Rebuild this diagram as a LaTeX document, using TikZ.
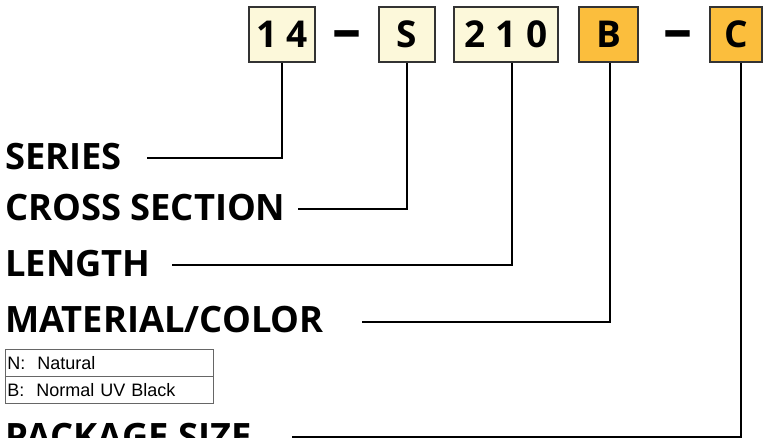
\documentclass[tikz,border=0pt]{standalone}
\usepackage{fontspec}
\setmainfont{Open Sans}
\newfontfamily\legendfont{Liberation Sans}
\usetikzlibrary{positioning}
\definecolor{cream}{HTML}{FCF8DA}
\definecolor{amber}{HTML}{FBBE3D}
\definecolor{edge}{HTML}{333333}

\begin{document}
\begin{tikzpicture}[x=1pt, y=-1pt,
  code/.style = {draw=edge, line width=1.2pt, fill=cream,
    minimum height=55pt, inner sep=0pt,
    font=\fontsize{37}{37}\selectfont\bfseries},
  opt/.style = {code, fill=amber},
  joiner/.style = {inner sep=0pt, font=\fontsize{58}{58}\selectfont\bfseries},
  field/.style = {anchor=base west, inner sep=0pt,
    font=\fontsize{36.3}{36.3}\selectfont\bfseries},
  lead/.style = {line width=1.6pt},
  legrow/.style = {draw=gray!80!black, line width=0.8pt,
    minimum width=208pt, minimum height=27pt, inner sep=2pt,
    text width=204pt, align=left,
    font=\legendfont\fontsize{18}{18}\selectfont}]
  \useasboundingbox (0,0) rectangle (763,438);

  % the part number
  \node[code, minimum width=66pt] (n14) at (282,34.5) {1 4};
  \node[joiner] (dash1) at (346.5,40) {–};
  \node[code, minimum width=56pt] (nS) at (407,34.5) {S};
  \node[code, minimum width=104pt] (n210) at (506,34.5) {2 1 0};
  \node[opt, minimum width=59pt] (nB) at (608.5,34.5) {B};
  \node[joiner] (dash2) at (677.5,40) {–};
  \node[opt, minimum width=52pt] (nC) at (736,34.5) {C};

  % field names
  \node[field] (series) at (5,170) {SERIES};
  \node[field] (xsec) at (5,221) {CROSS SECTION};
  \node[field] (length) at (5,277) {LENGTH};
  \node[field] (matl) at (5,333) {MATERIAL/COLOR};
  \node[field] (pkg) at (5,449) {PACKAGE SIZE};

  % colour codes
  \node[legrow, anchor=north west] (legN) at (5,349) {N:\ \ Natural};
  \node[legrow, below=-0.8pt of legN] (legB) {B:\ \ Normal UV Black};

  % leaders
  \coordinate (seriesTail) at (147,158);
  \coordinate (xsecTail) at (298,209);
  \coordinate (lengthTail) at (172,265);
  \coordinate (matlTail) at (362,322);
  \coordinate (pkgTail) at (292,437);
  \draw[lead] (seriesTail) -| (n14.south);
  \draw[lead] (xsecTail) -| (nS.south);
  \draw[lead] (lengthTail) -| ([xshift=6pt]n210.south);
  \draw[lead] (matlTail) -| ([xshift=1.5pt]nB.south);
  \draw[lead] (pkgTail) -| ([xshift=5pt]nC.south);
\end{tikzpicture}
\end{document}
